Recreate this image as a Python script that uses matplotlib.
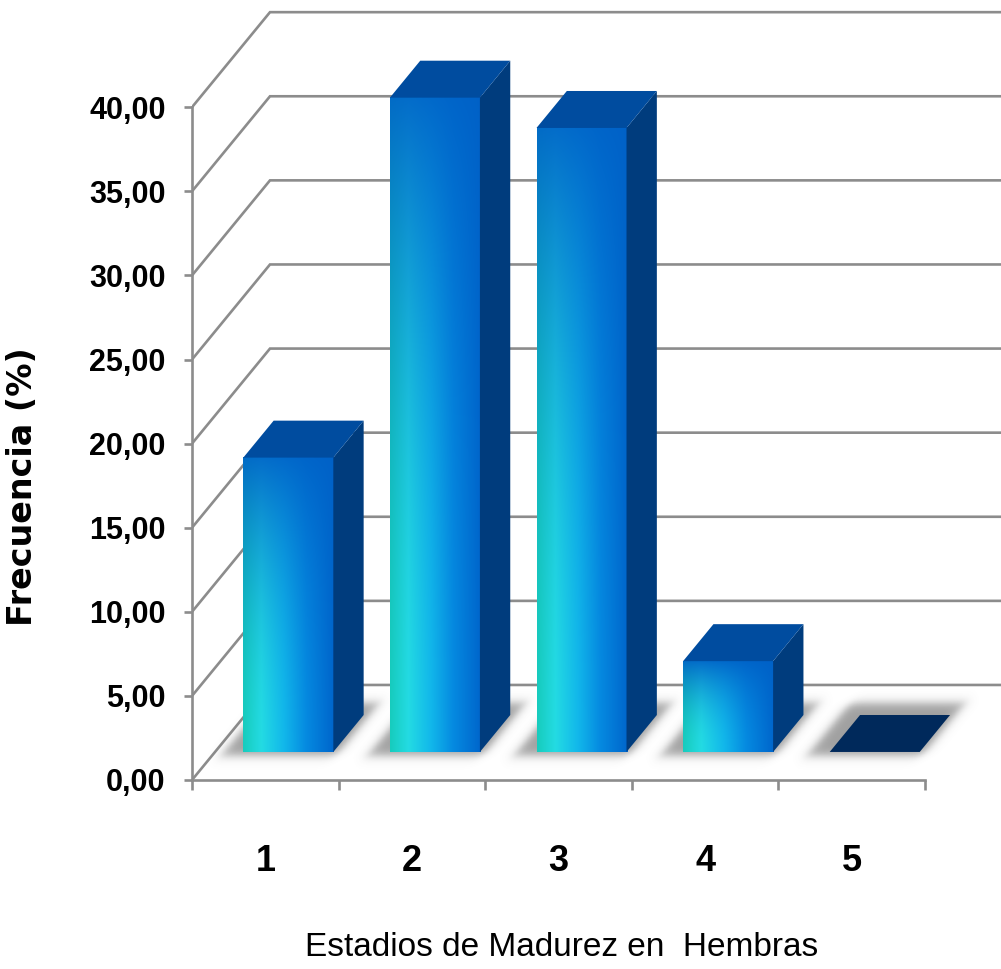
import numpy as np
import matplotlib.pyplot as plt
from matplotlib.patches import Polygon

# data
categories = ["1", "2", "3", "4", "5"]
frecuencia = [17.5, 38.9, 37.1, 5.4, 0.0]
yticks = [0, 5, 10, 15, 20, 25, 30, 35, 40]
ytick_labels = [f"{v:.2f}".replace(".", ",") for v in yticks]

# fake 3D box (Excel style)
DX, DY = 0.532, 5.65      # depth of the floor, in x units / y units
D0, D1 = 0.295, 0.684     # where the bars sit in depth
BW = 0.614                # bar width
GRID = "#8c8c8c"

fig = plt.figure(figsize=(10.01, 9.69), dpi=100)
ax = fig.add_axes([192 / 1001, 189 / 969, 809 / 1001, 780 / 969])

pos = np.arange(1, len(categories) + 1)
x_lo, x_hi = pos[0] - 0.5, pos[-1] + 0.5

# back wall + left wall gridlines
for v in yticks:
    ax.plot([x_lo, x_lo + DX, x_hi + DX], [v, v + DY, v + DY],
            color=GRID, lw=1.9, zorder=1, solid_joinstyle="miter")

# soft shadows on the floor
xs = np.linspace(x_lo, x_hi + DX, 1000)
ys = np.linspace(0, DY, 160)
X, Y = np.meshgrid(xs, ys)
depth = Y / DY
xf = X - depth * DX
alpha = np.zeros_like(X)
for i in pos:
    sx = 0.5 * (np.tanh((xf - (i - BW / 2 - 0.13)) / 0.045)
                - np.tanh((xf - (i + BW / 2 + 0.04)) / 0.045))
    sd = 0.5 * (np.tanh((depth - (D0 - 0.04)) / 0.06)
                - np.tanh((depth - (D1 + 0.12)) / 0.06))
    alpha = np.maximum(alpha, sx * sd)
shadow = np.zeros(X.shape + (4,))
shadow[..., :3] = 0.38
shadow[..., 3] = alpha * 0.6
ax.imshow(shadow, extent=[x_lo, x_hi + DX, 0, DY], origin="lower",
          aspect="auto", zorder=1.5, interpolation="bilinear")

# gradient for the front faces
stops_t = [0.0, 0.2, 0.45, 0.7, 1.0]
stops_c = np.array([[0.09, 0.80, 0.74],
                    [0.14, 0.86, 0.89],
                    [0.07, 0.72, 0.92],
                    [0.02, 0.54, 0.88],
                    [0.00, 0.40, 0.80]])
tt = np.linspace(0, 1, 120)
row = np.stack([np.interp(tt, stops_t, stops_c[:, k]) for k in range(3)], axis=-1)
hh = np.linspace(0, 1, 200)[:, None, None]
top_col = np.array([0.0, 0.38, 0.78])
f = 0.9 * hh ** 2.0
face = row[None, :, :] * (1 - f) + top_col * f

ddx, ddy = (D1 - D0) * DX, (D1 - D0) * DY
for i, v in zip(pos, frecuencia):
    xl = i - BW / 2 + D0 * DX
    xr = xl + BW
    b = D0 * DY
    t = b + v
    if v > 0:
        ax.imshow(face, extent=[xl, xr, b, t], origin="lower", aspect="auto",
                  zorder=3, interpolation="bilinear")
        ax.add_patch(Polygon([(xr, b), (xr + ddx, b + ddy), (xr + ddx, t + ddy), (xr, t)],
                             closed=True, fc="#003c7d", ec="none", zorder=3))
        top_fc = "#004c9f"
    else:
        top_fc = "#00295b"
    ax.add_patch(Polygon([(xl, t), (xr, t), (xr + ddx, t + ddy), (xl + ddx, t + ddy)],
                         closed=True, fc=top_fc, ec="none", zorder=3.1))

ax.set_xlim(x_lo, x_lo + 809 / 146.6)
ax.set_ylim(0, 780 / 16.82)

for s in ["top", "right"]:
    ax.spines[s].set_visible(False)
ax.spines["left"].set_bounds(0, 40)
ax.spines["bottom"].set_bounds(x_lo, x_hi)
for s in ["left", "bottom"]:
    ax.spines[s].set_color(GRID)
    ax.spines[s].set_linewidth(1.9)

ax.set_yticks(yticks, labels=ytick_labels)
ax.tick_params(axis="y", length=6, width=1.9, color=GRID, pad=13)
for lab in ax.get_yticklabels():
    lab.set_fontfamily(["Liberation Sans", "DejaVu Sans"])
    lab.set_fontweight("bold")
    lab.set_fontsize(22)

ax.set_xticks(np.arange(x_lo, x_hi + 0.01, 1.0), labels=[])
ax.set_xticks(pos, labels=categories, minor=True)
ax.tick_params(axis="x", which="major", length=7, width=1.9, color=GRID)
ax.tick_params(axis="x", which="minor", length=0, pad=46)
for lab in ax.get_xticklabels(minor=True):
    lab.set_fontfamily(["Liberation Sans", "DejaVu Sans"])
    lab.set_fontweight("bold")
    lab.set_fontsize(26)

ax.set_xlabel("Estadios de Madurez en  Hembras", fontsize=24,
              family=["Liberation Sans", "DejaVu Sans"])
ax.xaxis.set_label_coords(0.457, -0.195)
ax.set_ylabel("Frecuencia (%)", fontsize=24, fontweight="bold", family="DejaVu Sans")
ax.yaxis.set_label_coords(-0.189, 0.3756)

fig.savefig("out.png", dpi=100)
